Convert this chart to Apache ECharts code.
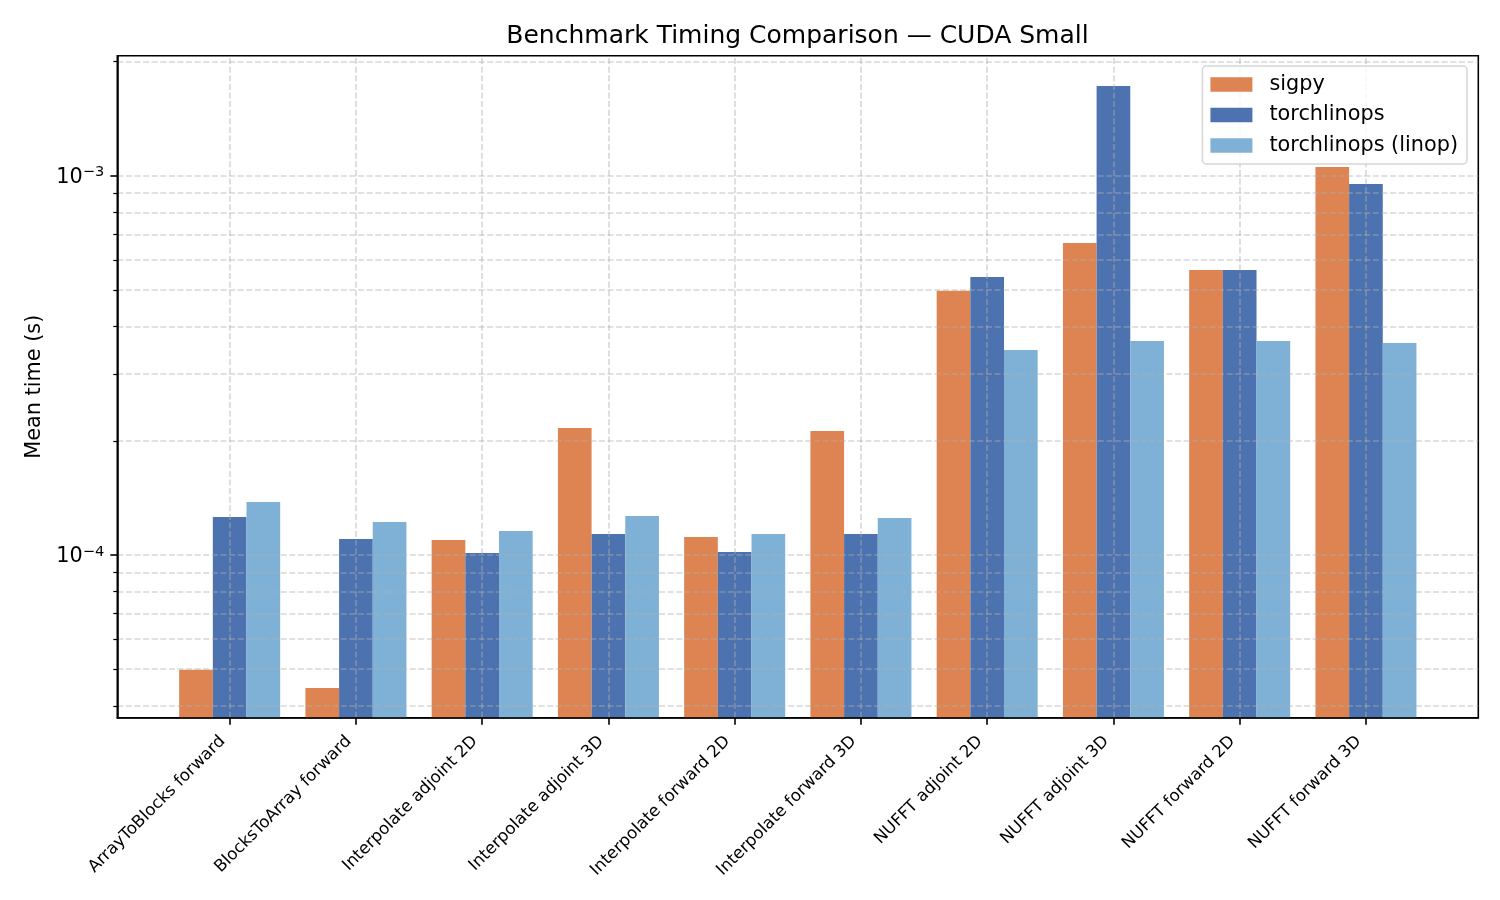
<!DOCTYPE html>
<html>
<head>
<meta charset="utf-8">
<script src="https://cdn.jsdelivr.net/npm/echarts@6/dist/echarts.min.js"></script>
<style>
html,body{margin:0;padding:0;background:#ffffff;}
#chart{width:1500px;height:900px;}
</style>
</head>
<body>
<div id="chart"></div>
<script>
// ---------------- data ----------------
const categories = [
  'ArrayToBlocks forward',
  'BlocksToArray forward',
  'Interpolate adjoint 2D',
  'Interpolate adjoint 3D',
  'Interpolate forward 2D',
  'Interpolate forward 3D',
  'NUFFT adjoint 2D',
  'NUFFT adjoint 3D',
  'NUFFT forward 2D',
  'NUFFT forward 3D'
];
const seriesNames = ['sigpy', 'torchlinops', 'torchlinops (linop)'];
const sigpy = [4.98e-5, 4.46e-5, 1.095e-4, 2.161e-4, 1.116e-4, 2.123e-4, 4.975e-4, 6.645e-4, 5.641e-4, 1.054e-3];
const torchlinops = [1.259e-4, 1.102e-4, 1.012e-4, 1.136e-4, 1.018e-4, 1.136e-4, 5.405e-4, 1.724e-3, 5.641e-4, 9.508e-4];
const torchlinopsLinop = [1.379e-4, 1.222e-4, 1.157e-4, 1.267e-4, 1.136e-4, 1.252e-4, 3.472e-4, 3.666e-4, 3.666e-4, 3.622e-4];
const majorTicks = [1e-4, 1e-3];
const minorTicks = [4e-5, 5e-5, 6e-5, 7e-5, 8e-5, 9e-5, 2e-4, 3e-4, 4e-4, 5e-4, 6e-4, 7e-4, 8e-4, 9e-4, 2e-3];
const yMin = 3.724e-5;
const yMax = 2.072e-3;
const xMin = -0.89;
const xMax = 9.89;

// ---------------- styling ----------------
const FONT = 'DejaVu Sans';
const colors = ['#DD8452', '#4C72B0', '#7EB1D5'];
const gridLineStyle = { color: 'rgba(176,176,176,0.5)', width: 1.6, type: [6, 2.6] };
const spine = { color: '#000000', width: 1.6 };

const catIdx = categories.map((c, i) => i);
const toPairs = arr => arr.map((v, i) => [i, v]);

function yLabel(v) {
  const l = Math.log10(v);
  const e = Math.round(l);
  if (Math.abs(l - e) > 1e-6) return '';
  const exp = e < 0 ? '\u2212' + (-e) : String(e);
  return '{b|10}{s|' + exp + '}';
}

const barData = [sigpy, torchlinops, torchlinopsLinop];
const series = barData.map((arr, k) => ({
  name: seriesNames[k],
  type: 'bar',
  data: toPairs(arr),
  barWidth: 33.67,
  barGap: '0%',
  itemStyle: { color: colors[k] },
  emphasis: { disabled: true },
  animation: false
}));

// grid lines (drawn above the bars, as in the reference)
const hLines = majorTicks.concat(minorTicks).map(v => [{ coord: [xMin, v] }, { coord: [xMax, v] }]);
const vLines = catIdx.map(i => ({ xAxis: i }));
series.push({
  name: '_grid',
  type: 'line',
  data: [],
  silent: true,
  animation: false,
  markLine: {
    silent: true,
    symbol: ['none', 'none'],
    label: { show: false },
    emphasis: { disabled: true },
    lineStyle: gridLineStyle,
    animation: false,
    z: 5,
    data: hLines.concat(vLines)
  }
});

const chart = echarts.init(document.getElementById('chart'), null, { renderer: 'canvas' });
chart.setOption({
  backgroundColor: '#ffffff',
  animation: false,
  textStyle: { fontFamily: FONT },
  title: {
    text: 'Benchmark Timing Comparison \u2014 CUDA Small',
    left: 797.5,
    textAlign: 'center',
    top: 24,
    padding: 0,
    textStyle: { fontFamily: FONT, fontSize: 25, fontWeight: 'normal', color: '#000000' }
  },
  legend: {
    data: seriesNames,
    orient: 'vertical',
    right: 33,
    top: 66,
    z: 10,
    icon: 'rect',
    itemWidth: 42,
    itemHeight: 14.6,
    itemGap: 9.5,
    padding: [8, 9, 8, 8],
    backgroundColor: 'rgba(255,255,255,0.8)',
    borderColor: 'rgba(204,204,204,0.8)',
    borderWidth: 1.5,
    borderRadius: 4,
    selectedMode: false,
    textStyle: { fontFamily: FONT, fontSize: 20.8, color: '#000000', lineHeight: 21, padding: [0, 0, 0, 12] }
  },
  grid: {
    left: 117.3,
    right: 21.7,
    top: 55.7,
    bottom: 182.3,
    show: true,
    backgroundColor: 'transparent',
    borderColor: '#000000',
    borderWidth: 1.6
  },
  xAxis: {
    type: 'value',
    min: xMin,
    max: xMax,
    z: 20,
    axisLine: { show: true, onZero: false, lineStyle: spine },
    axisTick: { show: true, customValues: catIdx, length: 7, lineStyle: spine },
    axisLabel: {
      customValues: catIdx,
      formatter: v => categories[Math.round(v)],
      rotate: 45,
      margin: 14,
      padding: [0, 10, 0, 0],
      fontFamily: FONT,
      fontSize: 16.7,
      color: '#000000'
    },
    splitLine: { show: false }
  },
  yAxis: [
    {
      type: 'log',
      logBase: 10,
      position: 'left',
      min: yMin,
      max: yMax,
      startValue: yMin,
      z: 20,
      name: 'Mean time (s)',
      nameLocation: 'middle',
      nameGap: 72,
      nameTextStyle: { fontFamily: FONT, fontSize: 20.8, color: '#000000' },
      axisLine: { show: true, onZero: false, lineStyle: spine },
      axisTick: { show: true, customValues: majorTicks, length: 7, lineStyle: spine },
      axisLabel: {
        customValues: majorTicks,
        formatter: yLabel,
        margin: 13,
        rich: {
          b: { fontFamily: FONT, fontSize: 20.8, color: '#000000', lineHeight: 21, padding: [4, 0, 0, 0] },
          s: { fontFamily: FONT, fontSize: 14.6, color: '#000000', lineHeight: 15, verticalAlign: 'top' }
        }
      },
      splitLine: { show: false },
      minorTick: { show: false },
      minorSplitLine: { show: false }
    },
    {
      type: 'log',
      logBase: 10,
      position: 'left',
      min: yMin,
      max: yMax,
      z: 20,
      axisLine: { show: false, onZero: false },
      axisTick: { show: true, customValues: minorTicks, length: 4, lineStyle: { color: '#000000', width: 1.2 } },
      axisLabel: { show: false },
      splitLine: { show: false }
    }
  ],
  series: series
});
</script>
</body>
</html>
